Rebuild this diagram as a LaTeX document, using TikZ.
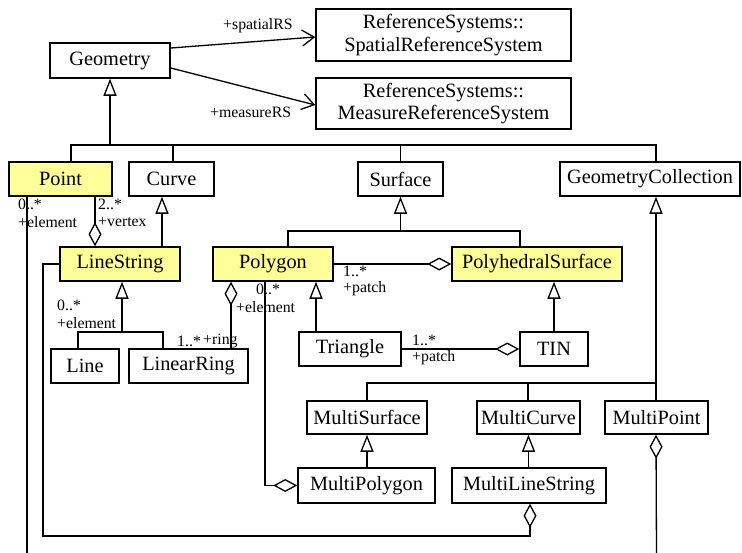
\documentclass[tikz,border=0pt]{standalone}
\usepackage{fontspec}
\setmainfont{Liberation Serif}
\usetikzlibrary{arrows.meta,calc}
\definecolor{uyellow}{RGB}{255,255,153}
\tikzset{
  cls/.style={draw, line width=1.5pt, inner sep=0pt, minimum height=34pt, font=\fontsize{20.3}{22.5}\selectfont, align=center},
  hl/.style={cls, fill=uyellow},
  conn/.style={line width=1.3pt},
  gen/.style={conn, {Triangle[open, length=17pt, width=13pt, fill=white]}-},
  agg/.style={conn, {Diamond[open, length=24pt, width=13pt, fill=white]}-},
  nav/.style={conn, -{Straight Barb[length=12pt, width=16pt]}},
  lbl/.style={inner sep=0pt, anchor=west, font=\fontsize{15.8}{17}\selectfont}
}
\begin{document}
\begin{tikzpicture}[x=1pt, y=-1pt]
\useasboundingbox (0,0) rectangle (742,552);
% classes
\node[cls, minimum width=120pt, minimum height=35pt] (geom) at (110,60.5) {Geometry};
\node[cls, minimum width=255pt, minimum height=52pt] (srs) at (443.5,35) {ReferenceSystems::\\SpatialReferenceSystem};
\node[cls, minimum width=255pt, minimum height=51pt] (mrs) at (443.5,103.5) {ReferenceSystems::\\MeasureReferenceSystem};
\node[hl, minimum width=103pt] (point) at (60.5,179) {Point};
\node[cls, minimum width=85pt] (curve) at (171.5,179) {Curve};
\node[cls, minimum width=85pt] (surface) at (400.5,179) {Surface};
\node[cls, minimum width=180pt] (gc) at (650,179) {GeometryCollection};
\node[hl, minimum width=120pt] (linestring) at (120,264) {LineString};
\node[hl, minimum width=120pt] (polygon) at (273,264) {Polygon};
\node[hl, minimum width=170pt] (polyhedral) at (537,264) {PolyhedralSurface};
\node[cls, minimum width=68pt] (line) at (85,366) {Line};
\node[cls, minimum width=119pt] (linearring) at (188.5,366) {LinearRing};
\node[cls, minimum width=102pt] (triangle) at (350,349) {Triangle};
\node[cls, minimum width=68pt] (tin) at (554,349) {TIN};
\node[cls, minimum width=120pt, minimum height=33pt] (multisurface) at (367,417.5) {MultiSurface};
\node[cls, minimum width=103pt, minimum height=33pt] (multicurve) at (528.5,417.5) {MultiCurve};
\node[cls, minimum width=103pt, minimum height=33pt] (multipoint) at (656.5,417.5) {MultiPoint};
\node[cls, minimum width=137pt, minimum height=35pt] (multipolygon) at (366.5,485.5) {MultiPolygon};
\node[cls, minimum width=154pt, minimum height=35pt] (multilinestring) at (529,485.5) {MultiLineString};
% bend coordinates
\coordinate (j1) at (110,145);
\coordinate (j2) at (400.5,231);
\coordinate (j3) at (122,332);
\coordinate (j4) at (656,383);
\coordinate (pend) at (27,556);
\coordinate (mpend) at (656.5,556);
\coordinate (lsc) at (43,536);
% navigable associations
\draw[nav] ($(geom.east)+(0,-12.5)$) -- ($(srs.west)+(0,2)$);
\draw[nav] ($(geom.east)+(0,7.5)$) -- ($(mrs.west)+(0,1.5)$);
\node[lbl] (lsrs) at (223,26) {+spatialRS};
\node[lbl] (lmrs) at (210,112) {+measureRS};
% generalization from Geometry
\draw[gen] (geom.south) -- (j1);
\draw[conn] ($(point.north)+(10.5,0)$) |- (j1) -| ($(gc.north)+(6,0)$);
\draw[conn] ($(curve.north)+(1.5,0)$) -- ++(0,-17);
\draw[conn] (surface.north) -- ++(0,-17);
% Surface tree
\draw[gen] (surface.south) -- (j2);
\draw[conn] ($(polygon.north)+(15,0)$) |- (j2) -| ($(polyhedral.north)+(-17,0)$);
% Curve <- LineString
\draw[gen] ($(curve.south)+(-9.5,0)$) -- ($(linestring.north)+(42,0)$);
% Point - LineString vertex
\draw[agg] ($(linestring.north)+(-25,0)$) -- ($(point.south)+(34.5,0)$);
\node[lbl] (lv1) at (98,204) {2..*};
\node[lbl] (lv2) at (98,222) {+vertex};
% Point element (to MultiPoint, off picture)
\draw[conn] ($(point.south)+(-33.5,0)$) -- (pend);
\node[lbl] (lp1) at (18,204) {0..*};
\node[lbl] (lp2) at (18,222) {+element};
% LineString tree
\draw[gen] ($(linestring.south)+(2,0)$) -- (j3);
\draw[conn] ($(line.north)+(-7,0)$) |- (j3) -| ($(linearring.north)+(-25.5,0)$);
\node[lbl] (ll1) at (57,305) {0..*};
\node[lbl] (ll2) at (57,323) {+element};
% Polygon - LinearRing
\draw[agg] ($(polygon.south)+(-42,0)$) -- ($(linearring.north)+(42.5,0)$);
\node[lbl] (lr1) at (177,341) {1..*};
\node[lbl] (lr2) at (203,341) {+ring};
% Polygon - MultiPolygon
\draw[agg] (multipolygon.west) -| ($(polygon.south)+(-8,0)$);
\node[lbl] (lm1) at (256,289) {0..*};
\node[lbl] (lm2) at (236,307) {+element};
% Polygon - PolyhedralSurface
\draw[agg] (polyhedral.west) -- (polygon.east);
\node[lbl] (lph1) at (343,271) {1..*};
\node[lbl] (lph2) at (343,289) {+patch};
% Polygon <- Triangle
\draw[gen] ($(polygon.south)+(43,0)$) -- ($(triangle.north)+(-34,0)$);
% PolyhedralSurface <- TIN
\draw[gen] ($(polyhedral.south)+(17,0)$) -- (tin.north);
% Triangle - TIN
\draw[agg] (tin.west) -- (triangle.east);
\node[lbl] (lt1) at (412,340) {1..*};
\node[lbl] (lt2) at (412,358) {+patch};
% GeometryCollection tree
\draw[gen] ($(gc.south)+(6,0)$) -- (j4) -- ($(multipoint.north)+(-0.5,0)$);
\draw[conn] (multisurface.north) |- (j4);
\draw[conn] ($(multicurve.north)+(-0.5,0)$) -- ++(0,-18);
% Multi generalizations
\draw[gen] (multisurface.south) -- ($(multipolygon.north)+(0.5,0)$);
\draw[gen] (multicurve.south) -- ($(multilinestring.north)+(-0.5,0)$);
% MultiPoint aggregation
\draw[agg] ($(multipoint.south)+(-0.5,0)$) -- (mpend);
% LineString - MultiLineString
\draw[agg] ($(multilinestring.south)+(1,0)$) |- (lsc) |- (linestring.west);
\end{tikzpicture}
\end{document}
